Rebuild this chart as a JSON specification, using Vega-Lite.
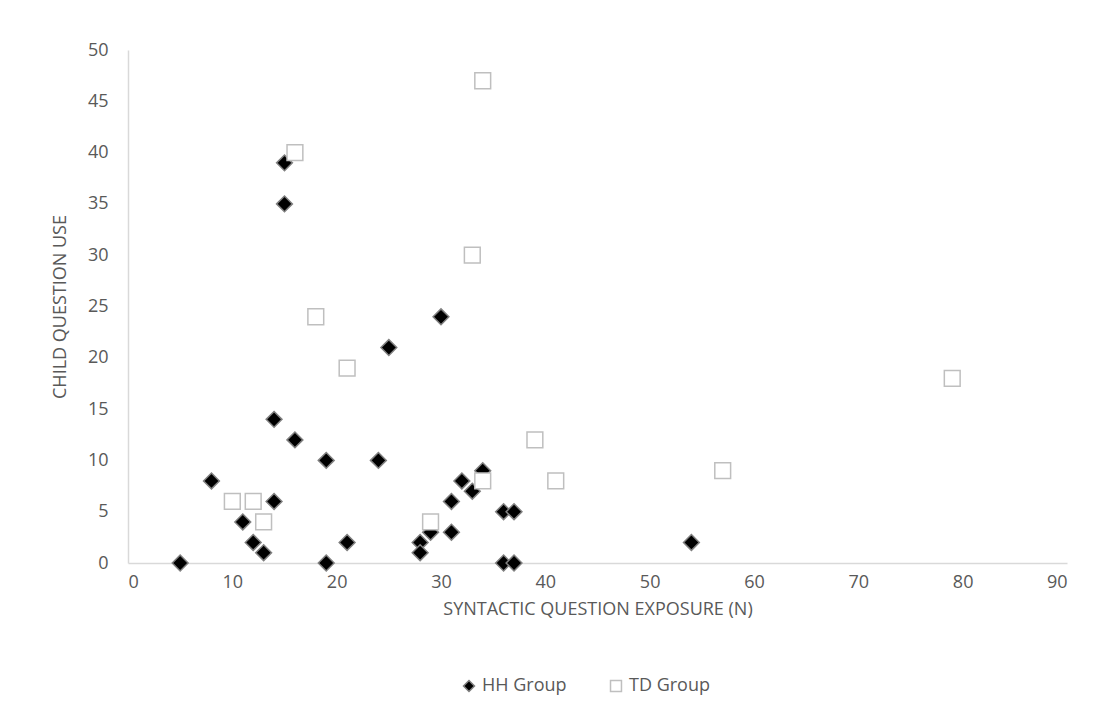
{
  "$schema": "https://vega.github.io/schema/vega-lite/v6.json",
  "autosize": "none",
  "width": 939,
  "height": 513,
  "padding": {"left": 128, "top": 50, "right": 34, "bottom": 160},
  "background": "white",
  "config": {
    "view": {"stroke": null},
    "legend": {"labelFont": "Open Sans", "labelFontSize": 18, "labelColor": "#595959"}
  },
  "data": {"values": [
    {"x": 5, "y": 0, "group": "HH Group"},
    {"x": 8, "y": 8, "group": "HH Group"},
    {"x": 11, "y": 4, "group": "HH Group"},
    {"x": 12, "y": 2, "group": "HH Group"},
    {"x": 13, "y": 1, "group": "HH Group"},
    {"x": 14, "y": 14, "group": "HH Group"},
    {"x": 14, "y": 6, "group": "HH Group"},
    {"x": 15, "y": 39, "group": "HH Group"},
    {"x": 15, "y": 35, "group": "HH Group"},
    {"x": 16, "y": 12, "group": "HH Group"},
    {"x": 19, "y": 10, "group": "HH Group"},
    {"x": 19, "y": 0, "group": "HH Group"},
    {"x": 21, "y": 2, "group": "HH Group"},
    {"x": 24, "y": 10, "group": "HH Group"},
    {"x": 25, "y": 21, "group": "HH Group"},
    {"x": 30, "y": 24, "group": "HH Group"},
    {"x": 32, "y": 8, "group": "HH Group"},
    {"x": 34, "y": 9, "group": "HH Group"},
    {"x": 33, "y": 7, "group": "HH Group"},
    {"x": 31, "y": 6, "group": "HH Group"},
    {"x": 31, "y": 3, "group": "HH Group"},
    {"x": 29, "y": 3, "group": "HH Group"},
    {"x": 28, "y": 2, "group": "HH Group"},
    {"x": 28, "y": 1, "group": "HH Group"},
    {"x": 36, "y": 5, "group": "HH Group"},
    {"x": 37, "y": 5, "group": "HH Group"},
    {"x": 36, "y": 0, "group": "HH Group"},
    {"x": 37, "y": 0, "group": "HH Group"},
    {"x": 54, "y": 2, "group": "HH Group"},
    {"x": 10, "y": 6, "group": "TD Group"},
    {"x": 12, "y": 6, "group": "TD Group"},
    {"x": 13, "y": 4, "group": "TD Group"},
    {"x": 16, "y": 40, "group": "TD Group"},
    {"x": 18, "y": 24, "group": "TD Group"},
    {"x": 21, "y": 19, "group": "TD Group"},
    {"x": 29, "y": 4, "group": "TD Group"},
    {"x": 33, "y": 30, "group": "TD Group"},
    {"x": 34, "y": 47, "group": "TD Group"},
    {"x": 34, "y": 8, "group": "TD Group"},
    {"x": 39, "y": 12, "group": "TD Group"},
    {"x": 41, "y": 8, "group": "TD Group"},
    {"x": 57, "y": 9, "group": "TD Group"},
    {"x": 79, "y": 18, "group": "TD Group"}
  ]},
  "mark": {"type": "point", "filled": true, "strokeWidth": 1.5, "opacity": 1, "size": 250},
  "encoding": {
    "x": {"field": "x", "type": "quantitative", "scale": {"domain": [0, 90], "nice": false}, "axis": {"values": [0,10,20,30,40,50,60,70,80,90], "title": "SYNTACTIC QUESTION EXPOSURE (N)", "grid": false, "ticks": false, "domainColor": "#d9d9d9", "domainWidth": 1.5, "labelFont": "Open Sans", "labelFontSize": 18, "labelColor": "#595959", "labelPadding": 10, "titleFont": "Open Sans", "titleFontSize": 18, "titleFontWeight": "normal", "titleColor": "#595959", "titlePadding": 9}},
    "y": {"field": "y", "type": "quantitative", "scale": {"domain": [0, 50], "nice": false}, "axis": {"values": [0,5,10,15,20,25,30,35,40,45,50], "title": "CHILD QUESTION USE", "grid": false, "ticks": false, "domainColor": "#d9d9d9", "domainWidth": 1.5, "labelFont": "Open Sans", "labelFontSize": 18, "labelColor": "#595959", "labelPadding": 20, "titleFont": "Open Sans", "titleFontSize": 18, "titleFontWeight": "normal", "titleColor": "#595959", "titlePadding": 18}},
    "shape": {"field": "group", "type": "nominal", "scale": {"domain": ["HH Group", "TD Group"], "range": ["diamond", "square"]}, "legend": {"title": null, "orient": "none", "direction": "horizontal", "legendX": 332, "legendY": 627, "columnPadding": 40, "symbolStrokeWidth": 1.5, "symbolSize": 120, "labelOffset": 4}},
    "fill": {"field": "group", "type": "nominal", "scale": {"domain": ["HH Group", "TD Group"], "range": ["#000000", "#ffffff"]}, "legend": {"title": null, "orient": "none", "direction": "horizontal", "legendX": 332, "legendY": 627, "columnPadding": 40, "symbolStrokeWidth": 1.5, "symbolSize": 120, "labelOffset": 4}},
    "stroke": {"field": "group", "type": "nominal", "scale": {"domain": ["HH Group", "TD Group"], "range": ["#808080", "#bfbfbf"]}, "legend": {"title": null, "orient": "none", "direction": "horizontal", "legendX": 332, "legendY": 627, "columnPadding": 40, "symbolStrokeWidth": 1.5, "symbolSize": 120, "labelOffset": 4}}
  }
}
